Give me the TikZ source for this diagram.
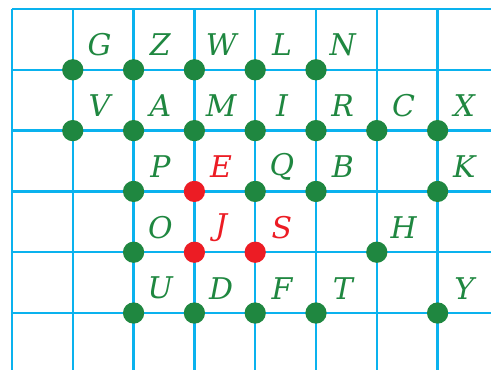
\documentclass[tikz,border=0pt]{standalone}
\usepackage{fontspec}
\setmainfont{DejaVu Serif}
\usepackage{tikz}
\usetikzlibrary{calc}
\usepackage{xcolor}
\definecolor{gridblue}{RGB}{10,178,238}
\definecolor{dotgreen}{RGB}{31,135,64}
\definecolor{dotred}{RGB}{236,28,36}

\begin{document}
\begin{tikzpicture}[
    gridline/.style={draw=gridblue, line width=1.1pt},
    dot/.style={circle, fill=dotgreen, minimum size=0.35cm, inner sep=0pt},
    reddot/.style={dot, fill=dotred},
    lbl/.style={font=\fontsize{14}{16}\selectfont\itshape, text=dotgreen, inner sep=0pt},
    redlbl/.style={lbl, text=dotred}
]
    \useasboundingbox (-0.197,-5.937) rectangle (7.878,0.148);

    % Grid
    \foreach \x in {0,...,7}
        \draw[gridline] (\x,0) -- (\x,-5.94);
    \foreach \y in {0,...,5}
        \draw[gridline] (0,-\y) -- (7.88,-\y);

    % Green points
    \foreach \n/\x/\y in {G/1/1, Z/2/1, W/3/1, L/4/1, N/5/1,
                          V/1/2, A/2/2, M/3/2, I/4/2, R/5/2, C/6/2, X/7/2,
                          P/2/3, Q/4/3, B/5/3, K/7/3,
                          O/2/4, H/6/4,
                          U/2/5, D/3/5, F/4/5, T/5/5, Y/7/5} {
        \node[dot] (\n) at (\x,-\y) {};
        \node[lbl] (l\n) at ($(\n)+(0.44,0.41)$) {\n};
    }

    % Red points
    \foreach \n/\x/\y in {E/3/3, J/3/4, S/4/4} {
        \node[reddot] (\n) at (\x,-\y) {};
        \node[redlbl] (l\n) at ($(\n)+(0.44,0.41)$) {\n};
    }
\end{tikzpicture}
\end{document}
